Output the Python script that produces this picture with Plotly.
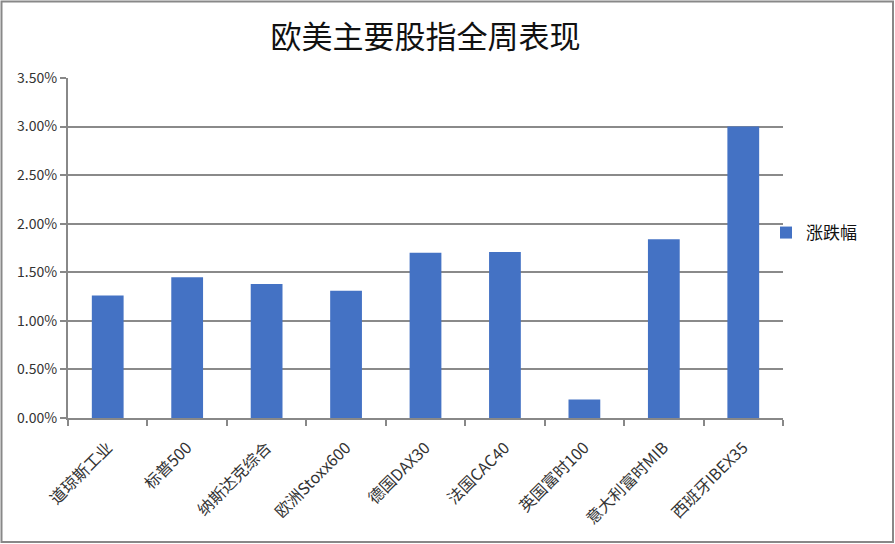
import plotly.graph_objects as go

categories = ["道琼斯工业", "标普500", "纳斯达克综合", "欧洲Stoxx600", "德国DAX30",
              "法国CAC40", "英国富时100", "意大利富时MIB", "西班牙IBEX35"]
values = [0.0126, 0.0145, 0.0138, 0.0131, 0.0170, 0.0171, 0.0019, 0.0184, 0.0300]
series_name = "涨跌幅"
title_text = "欧美主要股指全周表现"

W, H = 895, 544
L, R, T, B = 68, 112, 78, 126
pw, ph = W - L - R, H - T - B

font_cjk = "Noto Sans CJK SC, Microsoft YaHei, sans-serif"

fig = go.Figure()
fig.add_trace(go.Bar(
    x=categories, y=values, name=series_name,
    marker=dict(color="#4472C4", line=dict(width=0)),
    showlegend=True,
))

def px_to_paper_x(px):
    return (px - L) / pw

def py_to_paper_y(py):
    return (H - B - py) / ph

fig.update_layout(
    width=W, height=H,
    margin=dict(l=L, r=R, t=T, b=B),
    paper_bgcolor="white", plot_bgcolor="white",
    bargap=0.6,
    title=dict(text=title_text, x=0.5, xref="paper", xanchor="center",
               y=1 - 37 / H, yanchor="middle",
               font=dict(family=font_cjk, size=31, color="#111111")),
    showlegend=True,
    legend=dict(x=px_to_paper_x(766), y=py_to_paper_y(233), xanchor="left", yanchor="middle",
                font=dict(family=font_cjk, size=17, color="#111111"),
                bgcolor="rgba(0,0,0,0)", itemwidth=30, traceorder="normal"),
    font=dict(family=font_cjk, color="#333333"),
    xaxis=dict(
        tickangle=-45, tickfont=dict(family=font_cjk, size=16, color="#333333"),
        ticklabelstandoff=12,
        showline=True, linecolor="#888888", linewidth=2,
        ticks="outside", tickson="boundaries", ticklen=6, tickcolor="#888888", tickwidth=2,
        showgrid=False,
    ),
    yaxis=dict(
        range=[0, 0.035], dtick=0.005, tickformat=".2%",
        tickfont=dict(family=font_cjk, size=14, color="#333333"),
        showline=True, linecolor="#888888", linewidth=2,
        ticks="outside", ticklen=6, tickcolor="#888888", tickwidth=2,
        showgrid=True, gridcolor="#8a8a8a", gridwidth=2,
        zeroline=False,
    ),
    shapes=[dict(
        type="rect", xref="paper", yref="paper",
        x0=px_to_paper_x(1.5), x1=px_to_paper_x(W - 2),
        y0=py_to_paper_y(H - 2), y1=py_to_paper_y(1.5),
        line=dict(color="#888888", width=2), fillcolor="rgba(0,0,0,0)", layer="below",
    )],
)

fig.write_html("out.html", config={"displayModeBar": False},
               post_script="document.body.style.margin='0';document.body.style.overflow='hidden';")
